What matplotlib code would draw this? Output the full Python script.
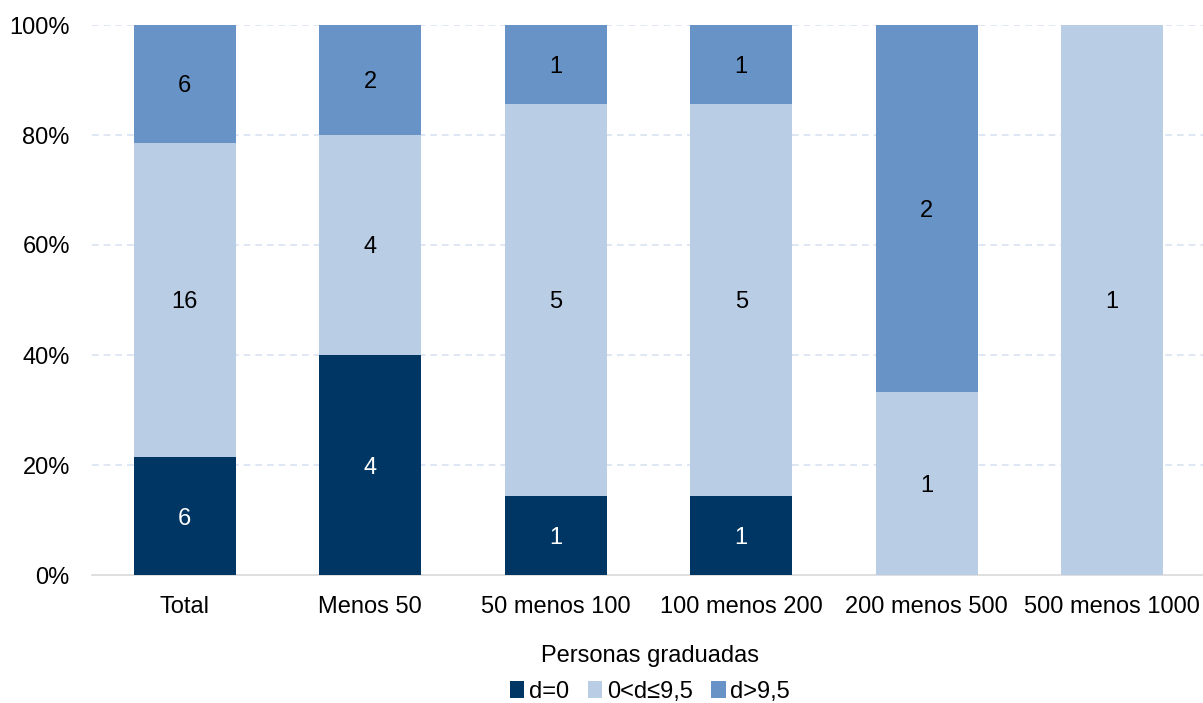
import matplotlib
matplotlib.use("Agg")
import matplotlib.pyplot as plt
from matplotlib.patches import Patch
import numpy as np

plt.rcParams['font.family'] = ['Liberation Sans', 'DejaVu Sans']

categories = ["Total", "Menos 50", "50 menos 100", "100 menos 200", "200 menos 500", "500 menos 1000"]
series_names = ["d=0", "0<d≤9,5", "d>9,5"]
d_zero = [6, 4, 1, 1, 0, 0]
d_mid = [16, 4, 5, 5, 1, 1]
d_high = [6, 2, 1, 1, 2, 0]
colors = ["#003663", "#B9CDE5", "#6793C6"]
text_colors = ["white", "black", "black"]

counts = np.array([d_zero, d_mid, d_high], dtype=float)
totals = counts.sum(axis=0)
shares = counts / totals

FS = 17

fig = plt.figure(figsize=(12.03, 7.03), dpi=100)
ax = fig.add_axes([92 / 1203, 1 - 575 / 703, (1205 - 92) / 1203, 550 / 703])

x = np.arange(len(categories))
bottom = np.zeros(len(categories))
for i in range(3):
    ax.bar(x, shares[i], bottom=bottom, width=0.55, color=colors[i], zorder=3)
    for j in range(len(categories)):
        if counts[i, j] > 0:
            ax.text(x[j], bottom[j] + shares[i, j] / 2, f"{int(counts[i, j])}",
                    ha="center", va="center_baseline", color=text_colors[i], fontsize=FS, zorder=4)
    bottom += shares[i]

ax.set_xlim(-0.5, len(categories) - 0.5)
ax.set_ylim(0, 1)
ax.set_yticks(np.arange(0, 1.01, 0.2))
ax.set_yticklabels([f"{int(round(v * 100))}%" for v in np.arange(0, 1.01, 0.2)])
ax.set_xticks(x)
ax.set_xticklabels(categories)
ax.tick_params(axis="both", length=0, labelsize=FS, colors="black")
ax.tick_params(axis="x", pad=15)
ax.tick_params(axis="y", pad=16)

for v in np.arange(0.2, 1.01, 0.2):
    ax.axhline(v, color="#D9E1F2", linestyle=(0, (4, 3)), linewidth=1.2, zorder=1)

for s in ["top", "right", "left"]:
    ax.spines[s].set_visible(False)
ax.spines["bottom"].set_color("#D9D9D9")
ax.spines["bottom"].set_linewidth(1.2)

handles = [Patch(facecolor=c, edgecolor="none") for c in colors]
leg = fig.legend(handles, series_names, loc="center", bbox_to_anchor=(650 / 1203, 1 - 674 / 703),
                 ncol=3, frameon=False, fontsize=FS, title="Personas graduadas", title_fontsize=FS,
                 handlelength=0.6, handleheight=0.7, handletextpad=0.2, columnspacing=0.8)
leg._legend_box.sep = 10

fig.savefig("out.png", dpi=100)
